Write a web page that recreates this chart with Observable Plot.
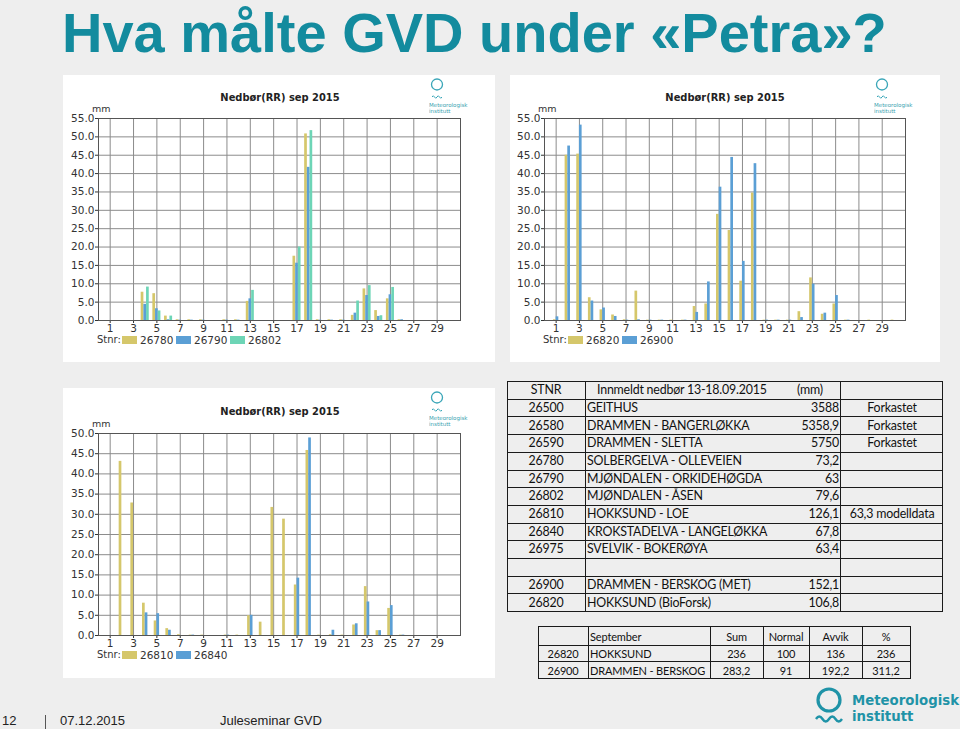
<!DOCTYPE html>
<html><head><meta charset="utf-8">
<script src="https://cdn.jsdelivr.net/npm/d3@7"></script>
<script src="https://cdn.jsdelivr.net/npm/@observablehq/plot@0.6"></script>
<style>
body{margin:0;background:#eeeeee;}
#slide{position:relative;width:960px;height:729px;overflow:hidden;background:#eeeeee;font-family:"Liberation Sans",Arial,sans-serif;}
.abs{position:absolute;white-space:nowrap;line-height:1;}
.panel{position:absolute;background:#fff;}
.ptxt{position:absolute;white-space:nowrap;font-family:"DejaVu Sans",sans-serif;font-size:10px;color:#333;line-height:1;}
.tline{position:absolute;background:#1a1a1a;}
.tcell{position:absolute;white-space:nowrap;font-family:Lato,sans-serif;color:#111;line-height:1;}
</style></head><body><div id="slide"></div>
<script>
// ---------- DATA ----------
const days = d3.range(1, 31);
const dayTicks = [1,3,5,7,9,11,13,15,17,19,21,23,25,27,29];
const yTicks55 = [0,5,10,15,20,25,30,35,40,45,50,55];
const yTicks50 = [0,5,10,15,20,25,30,35,40,45,50];

// top-left chart
const tlStations = ["26780","26790","26802"];
const tl26780 = [0,0,0,7.7,7.3,1.2,0.2,0.2,0.2,0,0.2,0.2,5.2,0,0,0,17.5,50.8,0.2,0.2,0.2,1.4,8.6,2.7,5.9,0.2,0,0,0,0];
const tl26790 = [0,0,0,4.4,3.2,0.2,0.1,0.1,0.1,0,0.1,0.1,5.9,0,0,0,15.6,41.7,0.1,0.1,0.1,2.0,6.8,1.1,7.0,0.2,0,0,0,0];
const tl26802 = [0,0,0,9.1,2.6,1.2,0,0,0,0,0,0,8.2,0,0,0,20.0,51.7,0,0,0,5.3,9.5,1.3,9.0,0,0,0,0,0];

// top-right chart
const trStations = ["26820","26900"];
const tr26820 = [0.2,45.0,45.3,6.2,2.9,1.5,0.2,8.0,0.1,0.1,0.1,0.1,3.8,4.5,28.9,24.5,10.7,34.7,0.1,0.1,0.1,2.4,11.6,1.7,4.5,0.1,0,0.1,0,0.1];
const tr26900 = [1.0,47.5,53.2,5.3,3.4,1.1,0.1,0.2,0.1,0.1,0,0.1,2.2,10.5,36.3,44.4,16.1,42.7,0.1,0.1,0.1,0.8,9.9,2.0,6.8,0.1,0,0,0,0];

// bottom-left chart
const blStations = ["26810","26840"];
const bl26810 = [0,43.1,32.8,8.0,3.6,1.7,0.2,0.1,0.1,0,0.1,0.1,4.9,3.3,31.7,28.8,12.5,45.8,0.1,0.2,0.1,2.6,12.1,1.2,6.7,0.1,0,0,0,0];
const bl26840 = [0,0,0,5.6,5.4,1.3,0,0.1,0,0,0.1,0,5.0,0,0,0,14.2,48.9,0,1.3,0,2.9,8.3,1.2,7.4,0.1,0,0,0,0];

// tables
const tHeader = ["STNR","Innmeldt nedbør 13-18.09.2015","(mm)",""];
const tStnr = ["26500","26580","26590","26780","26790","26802","26810","26840","26975","","26900","26820"];
const tNames = ["GEITHUS","DRAMMEN - BANGERLØKKA","DRAMMEN - SLETTA","SOLBERGELVA - OLLEVEIEN","MJØNDALEN - ORKIDEHØGDA","MJØNDALEN - ÅSEN","HOKKSUND - LOE","KROKSTADELVA - LANGELØKKA","SVELVIK - BOKERØYA","","DRAMMEN - BERSKOG (MET)","HOKKSUND (BioForsk)"];
const tValues = ["3588","5358,9","5750","73,2","63","79,6","126,1","67,8","63,4","","152,1","106,8"];
const tNotes = ["Forkastet","Forkastet","Forkastet","","","","63,3 modelldata","","","","",""];

const sHeader = ["","September","Sum","Normal","Avvik","%"];
const sRows = [
  ["26820","HOKKSUND","236","100","136","236"],
  ["26900","DRAMMEN - BERSKOG","283,2","91","192,2","311,2"]
];

const yellow = "#d5c76b", blue = "#5b9fd5", teal = "#6dd5b6";
const teal2 = "#1f93a7";

// ---------- HELPERS ----------
const slide = document.getElementById("slide");
function el(tag, cls, parent, styles, text){
  const e = document.createElement(tag);
  if(cls) e.className = cls;
  Object.assign(e.style, styles||{});
  if(text!==undefined) e.textContent = text;
  (parent||slide).appendChild(e);
  return e;
}
function px(v){return v+"px";}

function miniLogo(panel, cx){
  const ns="http://www.w3.org/2000/svg";
  const svg=document.createElementNS(ns,"svg");
  svg.setAttribute("width","50");svg.setAttribute("height","42");
  Object.assign(svg.style,{position:"absolute",left:px(cx-8),top:"0px"});
  svg.innerHTML='<circle cx="8" cy="9.5" r="5.5" fill="none" stroke="#3aa6b8" stroke-width="1.3"/>'+
    '<path d="M3,22 q1.25,-2.5 2.5,0 t2.5,0 t2.5,0 t2.5,0" fill="none" stroke="#3aa6b8" stroke-width="1"/>'+
    '<text x="0" y="32" font-size="5.5" font-family="DejaVu Sans" fill="#3a9fb0">Meteorologisk</text>'+
    '<text x="0" y="38" font-size="5.5" font-family="DejaVu Sans" fill="#3a9fb0">institutt</text>';
  panel.appendChild(svg);
}

function makeChart(cfg){
  const panel = el("div","panel",slide,{left:px(cfg.left),top:px(cfg.top),width:px(cfg.width),height:px(cfg.height)});
  const n = cfg.stations.length, bw = 0.23;
  const data = [];
  cfg.stations.forEach((s,i)=>cfg.series[i].forEach((v,d)=>{
    if(v>0){ const x1 = days[d] - n*bw/2 + i*bw; data.push({station:s, x1, x2:x1+bw, value:v}); }
  }));
  const chart = Plot.plot({
    width: cfg.width, height: cfg.height,
    marginTop: cfg.mt, marginBottom: cfg.mb, marginLeft: cfg.ml, marginRight: cfg.mr,
    style: {background:"transparent", color:"#333", fontFamily:"DejaVu Sans, sans-serif", fontSize:"10.5px"},
    x: {type:"linear", domain:[0,31], ticks: dayTicks, tickFormat: d=>String(d), tickSize:3, tickPadding:1, label:null},
    y: {domain:[0,cfg.yMax], ticks: cfg.yTicks, tickFormat: d=>d.toFixed(1), tickSize:3, tickPadding:1, label:null},
    color: {domain: cfg.stations, range: cfg.colors},
    marks: [
      Plot.ruleY(cfg.yTicks, {stroke:"#8c8c8c"}),
      Plot.ruleX(dayTicks, {stroke:"#8c8c8c"}),
      Plot.rect(data, {x1:"x1", x2:"x2", y1:0, y2:"value", fill:"station"}),
      Plot.frame({stroke:"#555"})
    ]
  });
  Object.assign(chart.style,{position:"absolute",left:"0px",top:"0px"});
  panel.appendChild(chart);
  // title
  el("div","ptxt",panel,{left:px(cfg.titleX),top:px(cfg.titleY-5.5),transform:"translateX(-50%)",fontWeight:"bold",fontSize:"11px",color:"#222",fontFamily:"'DejaVu Sans Condensed','DejaVu Sans',sans-serif"},"Nedbør(RR) sep 2015");
  // mm
  el("div","ptxt",panel,{left:px(cfg.mmX),top:px(cfg.mt-14),fontSize:"9.5px"},"mm");
  // legend
  const ly = cfg.legendY;
  el("div","ptxt",panel,{left:px(cfg.ml-1),top:px(ly-5)},"Stnr:");
  cfg.stations.forEach((s,i)=>{
    const sx = cfg.ml + 24 + i*54;
    el("div","",panel,{position:"absolute",left:px(sx),top:px(ly-4),width:"15px",height:"8px",background:cfg.colors[i]});
    el("div","ptxt",panel,{left:px(sx+18),top:px(ly-5),fontSize:"10.5px"},s);
  });
  miniLogo(panel, cfg.logoX);
}

// ---------- TITLE ----------
el("div","abs",slide,{left:"62px",top:"0px",fontSize:"56px",lineHeight:"normal",fontWeight:"bold",color:"#138b9e",fontFamily:"'Liberation Sans',Arial,sans-serif"},"Hva målte GVD under «Petra»?");

// ---------- CHARTS ----------
makeChart({left:63, top:75, width:432, height:287, mt:43, mb:42, ml:35, mr:35, yMax:55, yTicks:yTicks55,
  stations:tlStations, series:[tl26780,tl26790,tl26802], colors:[yellow,blue,teal],
  titleX:217, titleY:22, mmX:29, legendY:265, logoX:374});
makeChart({left:510, top:75, width:430, height:287, mt:43, mb:42, ml:34, mr:35, yMax:55, yTicks:yTicks55,
  stations:trStations, series:[tr26820,tr26900], colors:[yellow,blue],
  titleX:215, titleY:22, mmX:28, legendY:265, logoX:372});
makeChart({left:63, top:388, width:432, height:290, mt:45, mb:43, ml:35, mr:35, yMax:50, yTicks:yTicks50,
  stations:blStations, series:[bl26810,bl26840], colors:[yellow,blue],
  titleX:217, titleY:23, mmX:29, legendY:267, logoX:374});

// ---------- BIG TABLE ----------
(function(){
  const x = [507,585,840,942];
  const y0 = 381, rh = 17.7, nRows = tStnr.length + 1;
  for(let i=0;i<=nRows;i++) el("div","tline",slide,{left:px(x[0]),top:px(y0+i*rh),width:px(x[3]-x[0]+1),height:"1px"});
  x.forEach(xx=>el("div","tline",slide,{left:px(xx),top:px(y0),width:"1px",height:px(nRows*rh+1)}));
  const fs = 12.4;
  function cell(t, xa, xb, row, align){
    const top = y0 + row*rh + rh/2 - fs/2 + 0.5;
    el("div","tcell",slide,{left:px(xa),width:px(xb-xa),top:px(top),textAlign:align,fontSize:px(fs),letterSpacing:"-0.2px"},t);
  }
  cell(tHeader[0], x[0], x[1], 0, "center");
  cell(tHeader[1], 597, 800, 0, "left");
  cell(tHeader[2], 797, 840, 0, "left");
  tStnr.forEach((s,i)=>{
    cell(s, x[0], x[1], i+1, "center");
    cell(tNames[i], x[1]+2, x[2]-60, i+1, "left");
    cell(tValues[i], x[2]-80, x[2]-1, i+1, "right");
    cell(tNotes[i], x[2], x[3]+2, i+1, "center");
  });
})();

// ---------- SMALL TABLE ----------
(function(){
  const x = [538,588,710,763,809,862,910];
  const y = [626,645,661,678];
  y.forEach(yy=>el("div","tline",slide,{left:px(x[0]),top:px(yy),width:px(x[6]-x[0]+1),height:"1px"}));
  x.forEach(xx=>el("div","tline",slide,{left:px(xx),top:px(y[0]),width:"1px",height:px(y[3]-y[0]+1)}));
  const fs = 11;
  const rows = [sHeader].concat(sRows);
  rows.forEach((r,ri)=>{
    const top = (y[ri]+y[ri+1])/2 - fs/2 + 0.5;
    r.forEach((t,ci)=>{
      const align = ci===1 ? "left" : "center";
      const xa = ci===1 ? x[1]+2 : x[ci];
      el("div","tcell",slide,{left:px(xa),width:px(x[ci+1]-xa),top:px(top),textAlign:align,fontSize:px(fs),letterSpacing:"-0.15px"},t);
    });
  });
})();

// ---------- BIG LOGO ----------
(function(){
  const ns="http://www.w3.org/2000/svg";
  const svg=document.createElementNS(ns,"svg");
  svg.setAttribute("width","150");svg.setAttribute("height","42");
  Object.assign(svg.style,{position:"absolute",left:"810px",top:"686px"});
  svg.innerHTML='<circle cx="19" cy="14" r="11" fill="none" stroke="'+teal2+'" stroke-width="3.2"/>'+
    '<path d="M6,33 q3.25,-5 6.5,0 t6.5,0 t6.5,0 t6.5,0" fill="none" stroke="'+teal2+'" stroke-width="2.4"/>'+
    '<text x="42" y="19" font-size="13.3" font-weight="bold" font-family="DejaVu Sans" fill="'+teal2+'">Meteorologisk</text>'+
    '<text x="42" y="35" font-size="13.3" font-weight="bold" font-family="DejaVu Sans" fill="'+teal2+'">institutt</text>';
  slide.appendChild(svg);
})();

// ---------- FOOTER ----------
el("div","abs",slide,{left:"2px",top:"714px",fontSize:"13px",color:"#222"},"12");
el("div","abs",slide,{left:"45px",top:"715px",width:"1px",height:"14px",background:"#555"});
el("div","abs",slide,{left:"60px",top:"714px",fontSize:"13px",color:"#222"},"07.12.2015");
el("div","abs",slide,{left:"220px",top:"714px",fontSize:"13px",color:"#222"},"Juleseminar GVD");
</script></body></html>
